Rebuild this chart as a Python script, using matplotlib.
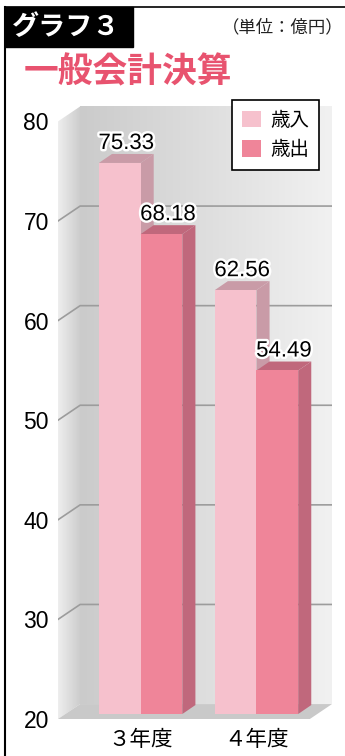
import numpy as np
import matplotlib
matplotlib.use('Agg')
import matplotlib.pyplot as plt
import matplotlib.patheffects as pe
from matplotlib.patches import Polygon, Rectangle, Patch
from matplotlib.lines import Line2D

plt.rcParams['font.family'] = ['Liberation Sans', 'Noto Sans CJK JP']
JP = ['Noto Sans CJK JP', 'DejaVu Sans']

# data
years = ['３年度', '４年度']
series = ['歳入', '歳出']
revenue = [75.33, 62.56]
expense = [68.18, 54.49]
yticks = [20, 30, 40, 50, 60, 70, 80]

front_colors = ['#f6c1cd', '#ef8599']
shade_colors = ['#c99ba7', '#c0687c']

# 3d look (data units)
W = 0.36               # bar width
DX, DY = 0.113, 0.9    # bar depth
FX, FY = -0.061, -0.5  # floor front edge, relative to bar front
BX, BY = 0.13, 1.0     # back wall, relative to bar front
XL, XR = -0.713, 1.652 # left front corner / right back corner

W_PX, H_PX = 345, 756
fig = plt.figure(figsize=(W_PX / 100, H_PX / 100), dpi=100)
ax = fig.add_axes([58 / W_PX, 37 / H_PX, 274 / W_PX, 624 / H_PX])
ylo = yticks[0] + FY
yhi = ylo + 624 / 9.96

# back wall
xlb = XL + BX - FX
grad = np.linspace(203, 241, 256) / 255
img = np.dstack([grad, grad, grad])
ax.imshow(img, extent=[xlb, XR, yticks[0] + BY, yticks[-1] + BY],
          aspect='auto', zorder=0, interpolation='bilinear')

# left side wall
side = Polygon([(XL, yticks[0] + FY), (xlb, yticks[0] + BY),
                (xlb, yticks[-1] + BY), (XL, yticks[-1] + FY)],
               closed=True, facecolor='none', edgecolor='none')
ax.add_patch(side)
sgrad = np.linspace(238, 204, 64) / 255
simg = np.dstack([sgrad, sgrad, sgrad])
im2 = ax.imshow(simg, extent=[XL, xlb, yticks[0] + FY, yticks[-1] + BY],
                aspect='auto', zorder=0, interpolation='bilinear')
im2.set_clip_path(side)

# floor
xrf = XR - (BX - FX)
ax.add_patch(Polygon([(XL, yticks[0] + FY), (xrf, yticks[0] + FY),
                      (XR, yticks[0] + BY), (xlb, yticks[0] + BY)],
                     closed=True, facecolor='#c9c9c9', edgecolor='none', zorder=1))

# grid lines
for v in yticks[1:-1]:
    ax.plot([XL, xlb, XR], [v + FY, v + BY, v + BY], color='#9c9c9c', lw=1.2, zorder=1)

# bars
values = [revenue, expense]
for i in range(len(years)):
    for j in range(len(series)):
        v = values[j][i]
        xl = i - W + j * W
        b = yticks[0]
        ax.add_patch(Polygon([(xl, v), (xl + W, v), (xl + W + DX, v + DY), (xl + DX, v + DY)],
                             closed=True, facecolor=shade_colors[j], edgecolor='none', zorder=2 + j))
        ax.add_patch(Polygon([(xl + W, b), (xl + W + DX, b + DY), (xl + W + DX, v + DY), (xl + W, v)],
                             closed=True, facecolor=shade_colors[j], edgecolor='none', zorder=2 + j))
        ax.bar(xl, v - b, bottom=b, width=W, align='edge', color=front_colors[j],
               edgecolor='none', zorder=2.5 + j)
        ax.text(xl + W / 2 + DX / 2, v + DY + 0.5, f'{v:.2f}', ha='center', va='baseline',
                fontsize=16, color='black', zorder=10,
                path_effects=[pe.withStroke(linewidth=3.5, foreground='white')])

ax.set_xlim(XL, XR)
ax.set_ylim(ylo, yhi)
ax.set_yticks([v + FY for v in yticks], [str(v) for v in yticks], fontsize=16.5)
ax.set_xticks(range(len(years)), years, fontsize=15.5, family=JP)
ax.tick_params(length=0)
ax.tick_params(axis='y', pad=6.5)
ax.tick_params(axis='x', pad=7)
for s in ax.spines.values():
    s.set_visible(False)
ax.patch.set_visible(False)

handles = [Patch(facecolor=c, edgecolor='none', label=s) for c, s in zip(front_colors, series)]
leg = ax.legend(handles=handles, loc='upper right', bbox_to_anchor=(319 / W_PX, 1 - 100 / H_PX),
                bbox_transform=fig.transFigure, borderaxespad=0, fancybox=False,
                prop={'family': JP, 'size': 14}, handlelength=0.95, handleheight=0.95,
                handletextpad=0.5, labelspacing=0.45, borderpad=0.5, framealpha=1)
leg.get_frame().set_edgecolor('black')
leg.get_frame().set_linewidth(1.2)
leg.set_zorder(20)

# header
fig.add_artist(Line2D([5 / W_PX, 1], [1 - 7 / H_PX] * 2, transform=fig.transFigure, color='black', lw=1.2))
fig.add_artist(Line2D([5 / W_PX] * 2, [1 - 7 / H_PX, 0], transform=fig.transFigure, color='black', lw=1.5))
fig.add_artist(Rectangle((5 / W_PX, 1 - 47 / H_PX), 128 / W_PX, 40 / H_PX,
                         transform=fig.transFigure, color='black'))
fig.text(12 / W_PX, 1 - 27 / H_PX, 'グラフ３', color='white', fontsize=19.5, fontweight='bold',
         family=JP, ha='left', va='center')
fig.text(344 / W_PX, 1 - 27 / H_PX, '（単位：億円）', color='#222222', fontsize=12.5,
         family=JP, ha='right', va='center')
fig.text(24 / W_PX, 1 - 72 / H_PX, '一般会計決算', color='#e8536f', fontsize=25, fontweight='bold',
         family=JP, ha='left', va='center')

fig.savefig('out.png', dpi=100, facecolor='white')
